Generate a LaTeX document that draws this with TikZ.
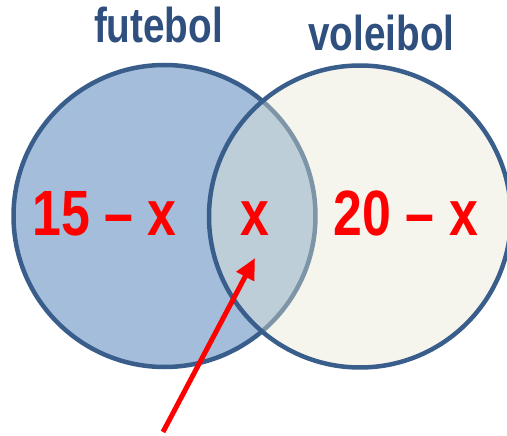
\documentclass[tikz,border=0pt]{standalone}
\usepackage{fontspec}
\usepackage{graphicx}
\setmainfont{Liberation Sans}
\usetikzlibrary{arrows.meta}
\definecolor{cblue}{RGB}{163,189,219}
\definecolor{cedge}{RGB}{58,94,140}
\definecolor{civory}{RGB}{230,232,212}
\definecolor{ctitle}{RGB}{47,79,127}
\definecolor{cred}{RGB}{255,0,0}
\tikzset{
  setcircle/.style={circle, inner sep=0pt, minimum size=302pt, draw=cedge, line width=4.5pt},
  title/.style={anchor=base, inner sep=0pt, text=ctitle, font=\fontsize{49}{49}\selectfont\bfseries},
  value/.style={anchor=base, inner sep=0pt, text=cred, font=\fontsize{64}{64}\selectfont\bfseries},
  pointer/.style={draw=cred, line width=5pt, -{Triangle[length=21pt,width=19pt]}}
}
\newcommand{\narrow}[1]{\scalebox{0.79}[1]{#1}}
\newcommand{\narrowv}[1]{\scalebox{0.81}[1]{#1}}
\begin{document}
\begin{tikzpicture}[x=1pt,y=-1pt]
\useasboundingbox (0,0) rectangle (507,436);
\fill[white] (0,0) rectangle (507,436);
\node[setcircle, fill=cblue] (A) at (164.5,216) {};
\node[setcircle, fill=civory, fill opacity=0.4] (B) at (360,216.5) {};
\node[title] (ta) at (158.5,43) {\narrow{futebol}};
\node[title] (tb) at (381.5,51) {\narrow{voleibol}};
\node[value] (va) at (104.5,235) {\narrowv{15 – x}};
\node[value] (vx) at (254.5,235) {\narrowv{x}};
\node[value] (vb) at (406,235) {\narrowv{20 – x}};
\coordinate (tail) at (163,432);
\coordinate (tip) at (255,258);
\draw[pointer] (tail) -- (tip);
\end{tikzpicture}
\end{document}
